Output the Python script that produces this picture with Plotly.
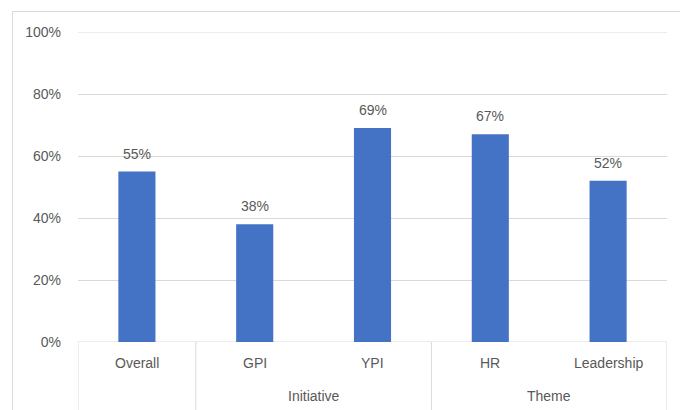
import plotly.graph_objects as go

# Survey results by category, grouped on a two-level category axis
categories = ["Overall", "GPI", "YPI", "HR", "Leadership"]
values = [0.55, 0.38, 0.69, 0.67, 0.52]
groups = [("", 0, 0), ("Initiative", 1, 2), ("Theme", 3, 4)]  # (label, first index, last index)
y_ticks = [0, 0.2, 0.4, 0.6, 0.8, 1.0]
y_tick_labels = ["0%", "20%", "40%", "60%", "80%", "100%"]

W, H = 680, 410
M_L, M_R, M_T, M_B = 78, 13, 32, 68
plot_h = H - M_T - M_B
plot_w = W - M_L - M_R

TEXT = "#595959"
GRID = "#D9D9D9"
BAR = "#4472C4"
FONT = "Liberation Sans, Arial, sans-serif"

fig = go.Figure(
    go.Bar(
        x=list(range(len(categories))),
        y=values,
        marker=dict(color=BAR, line=dict(width=0)),
        width=0.315,
        hoverinfo="skip",
    )
)

annotations = []
# value labels above each bar
for i, v in enumerate(values):
    annotations.append(dict(
        x=i, y=v, xref="x", yref="y", text=f"{round(v * 100)}%",
        showarrow=False, yanchor="bottom", yshift=8,
        font=dict(family=FONT, size=14, color=TEXT),
    ))
# first-level category labels
for i, c in enumerate(categories):
    annotations.append(dict(
        x=i, y=0, xref="x", yref="paper", text=c,
        showarrow=False, yanchor="middle", yshift=-21,
        font=dict(family=FONT, size=14, color=TEXT),
    ))
# second-level group labels
for label, a, b in groups:
    if label:
        annotations.append(dict(
            x=(a + b) / 2, y=0, xref="x", yref="paper", text=label,
            showarrow=False, yanchor="middle", yshift=-54,
            font=dict(family=FONT, size=14, color=TEXT),
        ))

shapes = []
# group separators running through both label rows
bottom = -(M_B + 2) / plot_h
edges = sorted({g[1] - 0.5 for g in groups} | {g[2] + 0.5 for g in groups})
for e in edges:
    shapes.append(dict(type="line", xref="x", yref="paper", x0=e, x1=e,
                       y0=0, y1=bottom, line=dict(color=GRID, width=1)))
# horizontal category axis line and the top gridline at the range edge
for yv in (y_ticks[0], y_ticks[-1]):
    shapes.append(dict(type="line", xref="paper", yref="y", x0=0, x1=1, y0=yv, y1=yv,
                       line=dict(color=GRID, width=1), layer="below"))
# chart area border
shapes.append(dict(type="rect", xref="paper", yref="paper",
                   x0=(12.5 - M_L) / plot_w, x1=(W + 20 - M_L) / plot_w,
                   y0=-(M_B + 20) / plot_h, y1=(H - M_B - 11.5) / plot_h,
                   line=dict(color=GRID, width=1), fillcolor="rgba(0,0,0,0)", layer="below"))

fig.update_layout(
    width=W, height=H,
    margin=dict(l=M_L, r=M_R, t=M_T, b=M_B),
    paper_bgcolor="white", plot_bgcolor="white",
    showlegend=False,
    xaxis=dict(range=[-0.5, len(categories) - 0.5], showticklabels=False,
               showgrid=False, zeroline=False, showline=False, ticks="", fixedrange=True),
    yaxis=dict(range=[0, 1.0], tickvals=y_ticks, ticktext=y_tick_labels,
               showgrid=True, gridcolor=GRID, gridwidth=1, zeroline=False,
               showline=False, ticks="", ticklabelstandoff=16,
               tickfont=dict(family=FONT, size=14, color=TEXT)),
    annotations=annotations,
    shapes=shapes,
)

fig.write_html("out.html")
